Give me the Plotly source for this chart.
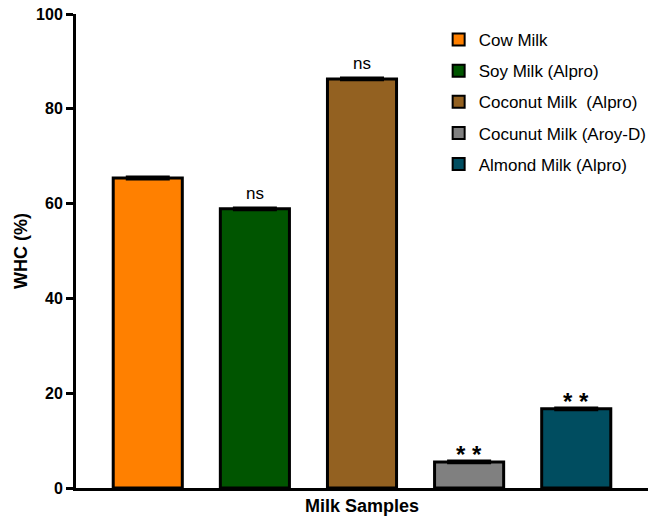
import plotly.graph_objects as go

# WHC of milk samples
samples = ["Cow Milk", "Soy Milk (Alpro)", "Coconut Milk  (Alpro)", "Cocunut Milk (Aroy-D)", "Almond Milk (Alpro)"]
whc = [65.4, 58.9, 86.3, 5.5, 16.7]
whc_err = [0.3, 0.3, 0.3, 0.3, 0.3]
significance = ["", "ns", "ns", "**", "**"]
colors = ["#FF8000", "#005500", "#936121", "#808080", "#004D60"]

FONT = "Liberation Sans, Arial"

fig = go.Figure()
for i, (name, val, err, col) in enumerate(zip(samples, whc, whc_err, colors)):
    fig.add_trace(go.Bar(
        x=[i], y=[val], name=name, legendgroup=f"g{i}",
        width=0.645,
        marker=dict(color=col, line=dict(color="black", width=3)),
        error_y=dict(type="data", array=[err], visible=True, color="black", thickness=2, width=22),
    ))

for i, (val, sig) in enumerate(zip(whc, significance)):
    if not sig:
        continue
    if sig == "ns":
        fig.add_annotation(x=i, y=val, text=sig, showarrow=False, yanchor="bottom", yshift=4,
                           font=dict(family=FONT, size=17, color="black"))
    else:
        fig.add_annotation(x=i, y=val, text="<b>* *</b>", showarrow=False, yanchor="bottom", yshift=-8,
                           font=dict(family=FONT, size=24, color="black"))

fig.update_layout(
    width=672, height=522,
    margin=dict(l=76, r=24, t=14, b=34),
    plot_bgcolor="white", paper_bgcolor="white",
    barmode="overlay",
    font=dict(family=FONT, color="black"),
    showlegend=True,
    legend=dict(x=0.634, y=0.983, xanchor="left", yanchor="top",
                font=dict(size=17, family=FONT),
                tracegroupgap=6, itemsizing="constant", bgcolor="rgba(0,0,0,0)"),
    xaxis=dict(range=[-0.67, 4.67], showticklabels=False, ticks="", automargin=False,
               showline=True, linecolor="black", linewidth=3, showgrid=False, zeroline=False,
               title=dict(text="<b>Milk Samples</b>", font=dict(size=18), standoff=10)),
    yaxis=dict(range=[0, 100], tickvals=[0, 20, 40, 60, 80, 100], automargin=False,
               ticktext=["<b>0</b>", "<b>20</b>", "<b>40</b>", "<b>60</b>", "<b>80</b>", "<b>100</b>"],
               tickfont=dict(size=16), ticks="outside", ticklen=7, tickwidth=3, tickcolor="black",
               showline=True, linecolor="black", linewidth=3, showgrid=False, zeroline=False,
               title=dict(text="<b>WHC (%)</b>", font=dict(size=18), standoff=4)),
)

fig.write_html("out.html")
